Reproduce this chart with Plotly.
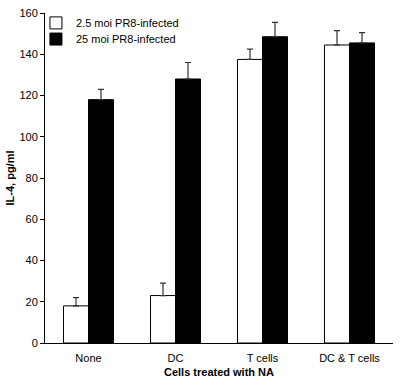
import plotly.graph_objects as go

categories = ["None", "DC", "T cells", "DC & T cells"]
low_moi = [18, 23, 137.5, 144.5]
low_err = [4, 6, 5, 7]
high_moi = [118, 128, 148.5, 145.5]
high_err = [5, 8, 7, 5]
series_names = ["2.5 moi PR8-infected", "25 moi PR8-infected"]

font_family = "Liberation Sans, Arial, sans-serif"

fig = go.Figure()
fig.add_trace(go.Bar(
    x=categories, y=low_moi, name=series_names[0], legend="legend",
    marker=dict(color="white", line=dict(color="black", width=1)),
    error_y=dict(type="data", array=low_err, arrayminus=[0]*4, symmetric=False,
                 color="#333333", thickness=1.2, width=3),
))
fig.add_trace(go.Bar(
    x=categories, y=high_moi, name=series_names[1], legend="legend2",
    marker=dict(color="black", line=dict(color="black", width=1)),
    error_y=dict(type="data", array=high_err, arrayminus=[0]*4, symmetric=False,
                 color="#333333", thickness=1.2, width=3),
))

legend_style = dict(xanchor="left", yanchor="middle", bgcolor="rgba(0,0,0,0)",
                    font=dict(size=11), itemwidth=30)

fig.update_layout(
    width=400, height=388,
    margin=dict(l=45, r=7, t=13, b=45, autoexpand=False),
    paper_bgcolor="white", plot_bgcolor="white",
    barmode="group", bargap=0.425, bargroupgap=0,
    font=dict(family=font_family, size=11, color="black"),
    showlegend=True,
    legend=dict(x=-0.026, y=0.970, **legend_style),
    legend2=dict(x=-0.026, y=0.921, **legend_style),
    xaxis=dict(
        automargin=False,
        showline=True, linecolor="black", linewidth=1,
        ticks="", showgrid=False, zeroline=False,
        ticklabelstandoff=5,
        title=dict(text="<b>Cells treated with NA</b>", standoff=5, font=dict(size=11)),
        tickfont=dict(size=11),
    ),
    yaxis=dict(
        automargin=False,
        range=[0, 160], dtick=20,
        showline=True, linecolor="black", linewidth=1,
        ticks="outside", ticklen=4, tickcolor="black",
        showgrid=False, zeroline=False,
        title=dict(text="<b>IL-4, pg/ml</b>", standoff=2, font=dict(size=11)),
        tickfont=dict(size=11),
    ),
)

fig.write_html("out.html", config={"displayModeBar": False},
               post_script="document.body.style.margin='0';")
